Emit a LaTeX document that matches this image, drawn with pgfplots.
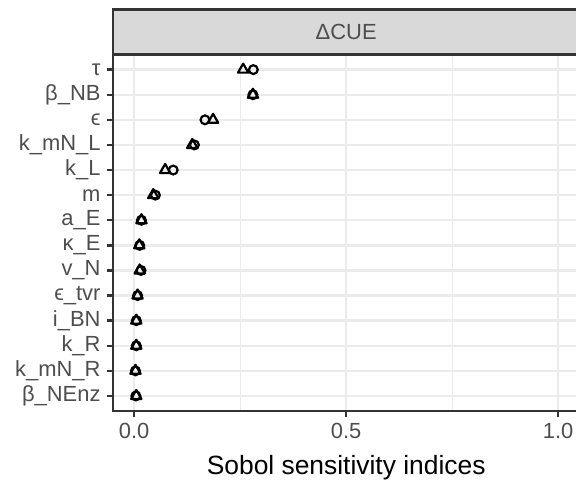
\documentclass[border=0pt]{standalone}
\usepackage{fontspec}
\setmainfont{Liberation Sans}
\usepackage{pgfplots}
\pgfplotsset{compat=1.18}
\definecolor{grid92}{HTML}{EBEBEB}
\definecolor{g20}{HTML}{333333}
\definecolor{g30}{HTML}{4D4D4D}
\definecolor{g85}{HTML}{D9D9D9}
\begin{document}
\begin{tikzpicture}
\begin{axis}[
  x=424bp, y=25.1bp,
  xmin=-0.05, xmax=1.05, ymin=0.4, ymax=14.6,
  xtick={0,0.5,1}, xticklabels={0.0,0.5,1.0},
  minor xtick={0.25,0.75},
  ytick={1,...,14},
  yticklabels={β\_NEnz, k\_mN\_R, k\_R, i\_BN, ϵ\_tvr, v\_N, κ\_E, a\_E, m, k\_L, k\_mN\_L, ϵ, β\_NB, τ},
  xmajorgrids, xminorgrids, ymajorgrids,
  major grid style={grid92, line width=2.4bp},
  minor grid style={grid92, line width=1.2bp},
  axis line style={g20, line width=2.4bp},
  every tick/.style={g20, line width=2.4bp},
  major tick length=6bp, minor tick length=0pt,
  tick align=outside,
  xtick pos=left, ytick pos=left,
  ticklabel style={font=\fontsize{22}{22}\selectfont, text=g30},
  yticklabel style={xshift=-3bp},
  xticklabel style={yshift=-3bp},
  xlabel={Sobol sensitivity indices},
  xlabel style={font=\fontsize{26.5}{26.5}\selectfont, text=black, yshift=-9bp},
  clip=false,
]
\addplot[only marks, mark=triangle, mark size=6bp, mark options={draw=black, line width=2.2bp, line join=round}] coordinates {
(0.257,14) (0.280,13) (0.186,12) (0.137,11) (0.073,10) (0.045,9) (0.017,8)
(0.012,7) (0.013,6) (0.008,5) (0.005,4) (0.005,3) (0.003,2) (0.005,1)
};
\addplot[only marks, mark=o, mark size=4.4bp, mark options={draw=black, line width=2.2bp}] coordinates {
(0.281,14) (0.280,13) (0.167,12) (0.142,11) (0.092,10) (0.050,9) (0.017,8)
(0.013,7) (0.016,6) (0.008,5) (0.005,4) (0.005,3) (0.003,2) (0.004,1)
};
\draw[draw=g20, fill=g85, line width=2.4bp] (rel axis cs:0,1) rectangle ([yshift=45bp]rel axis cs:1,1);
\node[font=\fontsize{22}{22}\selectfont, text=g30] at ([yshift=22.5bp]rel axis cs:0.5,1) {ΔCUE};
\coordinate (ll) at (rel axis cs:0,0);
\end{axis}
\pgfresetboundingbox
\path[use as bounding box] ([xshift=-113bp,yshift=-70bp]ll) rectangle ++(576bp,481bp);
\end{tikzpicture}
\end{document}
